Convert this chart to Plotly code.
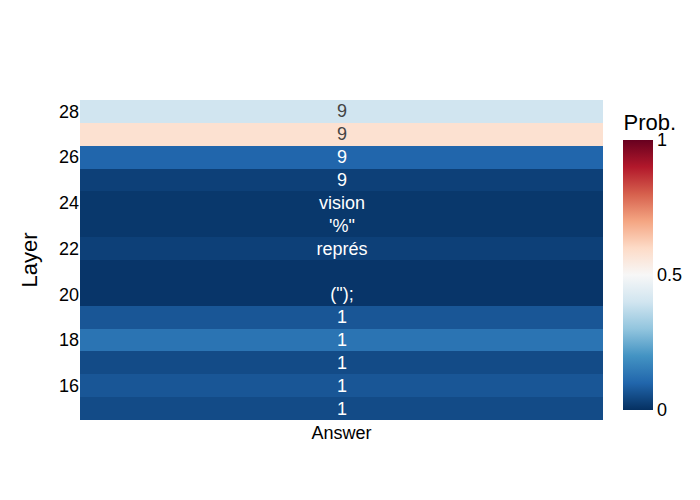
import plotly.graph_objects as go
import plotly.express as px

layers = [15, 16, 17, 18, 19, 20, 21, 22, 23, 24, 25, 26, 27, 28]
probs = [0.05, 0.07, 0.05, 0.13, 0.07, 0.01, 0.01, 0.03, 0.015, 0.015, 0.03, 0.10, 0.58, 0.40]
tokens = ["1", "1", "1", "1", "1", "(\");", "", "représ", "'%\"", "vision", "9", "9", "9", "9"]
column = ["Answer"]

fig = go.Figure(go.Heatmap(
    z=[[p] for p in probs],
    x=column,
    y=layers,
    text=[[t] for t in tokens],
    texttemplate="%{text}",
    textfont=dict(size=18),
    colorscale=px.colors.diverging.RdBu_r,
    zmin=0, zmax=1,
    colorbar=dict(
        title=dict(text="Prob.", font=dict(size=22)),
        tickvals=[0, 0.5, 1],
        ticktext=["0", "0.5", "1"],
        tickfont=dict(size=18),
        thickness=30,
        outlinewidth=0,
    ),
))

fig.update_layout(
    width=700, height=500,
    font=dict(family="Arial, Liberation Sans", size=18, color="black"),
    plot_bgcolor="white",
    paper_bgcolor="white",
    yaxis=dict(title=dict(text="Layer", font=dict(size=22)), tickfont=dict(size=18),
               dtick=2, tick0=0, showgrid=False, zeroline=False),
    xaxis=dict(tickfont=dict(size=18), showgrid=False),
)

fig.write_html("out.html")
